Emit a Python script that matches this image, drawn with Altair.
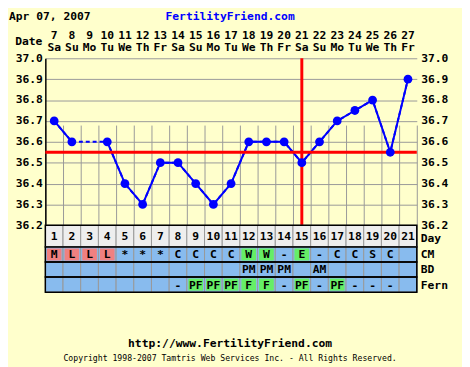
import altair as alt
import pandas as pd

# ---------------- data ----------------
dates = list(range(7, 28))
weekdays = ["Sa", "Su", "Mo", "Tu", "We", "Th", "Fr"] * 3
cycle_days = list(range(1, 22))
temps = [36.7, 36.6, None, 36.6, 36.4, 36.3, 36.5, 36.5, 36.4, 36.3, 36.4,
         36.6, 36.6, 36.6, 36.5, 36.6, 36.7, 36.75, 36.8, 36.55, 36.9]
cm = ["M", "L", "L", "L", "*", "*", "*", "C", "C", "C", "C", "W", "W", "-",
      "E", "-", "C", "C", "S", "C", ""]
bd = [""] * 11 + ["PM", "PM", "PM", "", "AM"] + [""] * 5
fern = [""] * 7 + ["-", "PF", "PF", "PF", "F", "F", "-", "PF", "-", "PF",
                   "-", "-", "-", ""]
coverline = 36.55
ovulation_day = 15
y_ticks = [36.2, 36.3, 36.4, 36.5, 36.6, 36.7, 36.8, 36.9, 37.0]
table_rows = ["CM", "BD", "Fern"]
title_date = "Apr 07, 2007"
site_name = "FertilityFriend.com"
site_url = "http://www.FertilityFriend.com"
copyright_text = "Copyright 1998-2007 Tamtris Web Services Inc. - All Rights Reserved."
period_codes = {"M", "L"}
fertile_codes = {"W", "E", "PF", "F"}

# ---------------- styling ----------------
W, H, TH = 378, 238, 170
BG = "#FFFFCC"
BLUE = "#0000FF"
RED = "#FF0000"
GRID = "#999999"
FONT = "DejaVu Sans Mono"
FS = 11.5

temp_df = pd.DataFrame({"cd": cycle_days, "date": dates, "wd": weekdays, "temp": temps})
day_df = pd.DataFrame({"cd": cycle_days, "row": ["Day"] * len(cycle_days)})

long_rows = []
for i, d in enumerate(cycle_days):
    for rname, vals in (("CM", cm), ("BD", bd), ("Fern", fern)):
        code = vals[i]
        kind = "period" if code in period_codes else ("fertile" if code in fertile_codes else "none")
        long_rows.append({"cd": d, "row": rname, "code": code, "kind": kind})
cells_df = pd.DataFrame(long_rows)

frame_day = pd.DataFrame({"row": ["Day"], "x0": [cycle_days[0] - 0.5], "x1": [cycle_days[-1] + 0.5]})
frame_rows = pd.DataFrame({"row": table_rows, "x0": [cycle_days[0] - 0.5] * 3, "x1": [cycle_days[-1] + 0.5] * 3})

xs = alt.Scale(domain=[cycle_days[0] - 0.5, cycle_days[-1] + 0.5], nice=False, zero=False)
x_axis = alt.Axis(values=[d - 0.5 for d in cycle_days] + [cycle_days[-1] + 0.5],
                  grid=True, gridColor=GRID, gridWidth=1, labels=False, ticks=False,
                  domain=False, title=None, orient="bottom")
ys_temp = alt.Scale(domain=[y_ticks[0], y_ticks[-1]], range=[TH, 0], nice=False, zero=False)
ys_day = alt.Scale(domain=["Day"], range=[TH, 192], paddingInner=0, paddingOuter=0)
ys_rows = alt.Scale(domain=table_rows, range=[192, H], paddingInner=0, paddingOuter=0)
ys_rows_in = alt.Scale(domain=table_rows, range=[192, H], paddingInner=0.2, paddingOuter=0.1)

left_axis = alt.Axis(values=y_ticks, format=".1f", orient="left", grid=True, gridColor=GRID,
                     gridWidth=1, domainColor="black", domainWidth=1.5, ticks=False,
                     labelPadding=3, labelFont=FONT, labelFontSize=FS, labelFontWeight="bold",
                     labelColor="black", title=None)
right_axis = alt.Axis(values=y_ticks, format=".1f", orient="right", grid=False, domain=False,
                      ticks=False, labelPadding=4, labelFont=FONT, labelFontSize=FS,
                      labelFontWeight="bold", labelColor="black", title=None)


def X(field):
    return alt.X(field, scale=xs, axis=x_axis, title=None)


txt = dict(font=FONT, fontSize=FS, fontWeight="bold", color="black")

# ---------------- table ----------------
day_cells = alt.Chart(day_df).transform_calculate(
    x0="datum.cd - 0.5", x1="datum.cd + 0.5"
).mark_rect(fill="#EEEEEE", stroke=GRID, strokeWidth=1).encode(
    x=X("x0:Q"), x2="x1:Q", y=alt.Y("row:N", scale=ys_day, axis=None))
day_text = alt.Chart(day_df).mark_text(dy=1, **txt).encode(
    x=X("cd:Q"), y=alt.Y("row:N", scale=ys_day, axis=None), text="cd:N")
day_frame = alt.Chart(frame_day).mark_rect(fillOpacity=0, stroke="black", strokeWidth=1.5).encode(
    x=X("x0:Q"), x2="x1:Q", y=alt.Y("row:N", scale=ys_day, axis=None))
day_label = alt.Chart(frame_day).mark_text(align="left", dy=3, **txt).encode(
    x=alt.value(W + 4), y=alt.Y("row:N", scale=ys_day, axis=None), text="row:N")

row_cells = alt.Chart(cells_df).transform_calculate(
    x0="datum.cd - 0.5", x1="datum.cd + 0.5"
).mark_rect(fill="#88BBEE", stroke=GRID, strokeWidth=1).encode(
    x=X("x0:Q"), x2="x1:Q", y=alt.Y("row:N", scale=ys_rows, axis=None))
row_hl = alt.Chart(cells_df).transform_filter("datum.kind != 'none'").transform_calculate(
    x0="datum.cd - 0.5", x1="datum.cd + 0.5"
).mark_rect(xOffset=1.5, x2Offset=-1.5).encode(
    x=X("x0:Q"), x2="x1:Q", y=alt.Y("row:N", scale=ys_rows_in, axis=None),
    color=alt.Color("kind:N", scale=alt.Scale(domain=["period", "fertile"],
                                              range=["#F08080", "#66EE66"]), legend=None))
row_frame = alt.Chart(frame_rows).mark_rect(fillOpacity=0, stroke="black", strokeWidth=1.5).encode(
    x=X("x0:Q"), x2="x1:Q", y=alt.Y("row:N", scale=ys_rows, axis=None))
row_text = alt.Chart(cells_df).transform_filter("datum.code != ''").mark_text(dy=1, **txt).encode(
    x=X("cd:Q"), y=alt.Y("row:N", scale=ys_rows, axis=None), text="code:N")
row_label = alt.Chart(frame_rows).mark_text(align="left", dy=1, **txt).encode(
    x=alt.value(W + 4), y=alt.Y("row:N", scale=ys_rows, axis=None), text="row:N")

# ---------------- temperatures ----------------
tbase = alt.Chart(temp_df)
dashed = tbase.mark_line(color=BLUE, strokeWidth=2, strokeDash=[4, 3], invalid="filter").encode(
    x=X("cd:Q"), y=alt.Y("temp:Q", scale=ys_temp, axis=left_axis))
solid = tbase.mark_line(color=BLUE, strokeWidth=2, invalid="break-paths-show-domains").encode(
    x=X("cd:Q"), y=alt.Y("temp:Q", scale=ys_temp, axis=right_axis))
cover = alt.Chart(pd.DataFrame({"temp": [coverline]})).mark_rule(color=RED, strokeWidth=3).encode(
    y=alt.Y("temp:Q", scale=ys_temp, axis=None))
ovu = alt.Chart(pd.DataFrame({"cd": [ovulation_day], "top": [y_ticks[-1]], "bottom": [y_ticks[0]]})
                ).mark_rule(color=RED, strokeWidth=3).encode(
    x=X("cd:Q"), y=alt.Y("top:Q", scale=ys_temp, axis=None), y2="bottom:Q")
points = tbase.mark_circle(size=80, color=BLUE, opacity=1).encode(
    x=X("cd:Q"), y=alt.Y("temp:Q", scale=ys_temp, axis=None))

# ---------------- header / footer ----------------
date_text = tbase.mark_text(**txt).encode(x=X("cd:Q"), y=alt.value(-23), text="date:N")
wd_text = tbase.mark_text(**txt).encode(x=X("cd:Q"), y=alt.value(-10), text="wd:N")
date_label = alt.Chart(pd.DataFrame({"t": ["Date"]})).mark_text(align="right", **txt).encode(
    x=alt.value(-3), y=alt.value(-17), text="t:N")
top_left = alt.Chart(pd.DataFrame({"t": [title_date]})).mark_text(align="left", **txt).encode(
    x=alt.value(-37), y=alt.value(-42), text="t:N")
top_site = alt.Chart(pd.DataFrame({"t": [site_name]})).mark_text(
    align="center", font=FONT, fontSize=FS, fontWeight="bold", color=BLUE).encode(
    x=alt.value(188), y=alt.value(-42), text="t:N")
foot_url = alt.Chart(pd.DataFrame({"t": [site_url]})).mark_text(align="center", **txt).encode(
    x=alt.value(188), y=alt.value(291), text="t:N")
foot_copy = alt.Chart(pd.DataFrame({"t": [copyright_text]})).mark_text(
    align="center", font=FONT, fontSize=8.3, color="black").encode(
    x=alt.value(188), y=alt.value(306), text="t:N")

chart = alt.layer(
    dashed, solid, cover, ovu, points,
    day_cells, day_text, day_frame, day_label,
    row_cells, row_hl, row_frame, row_text, row_label,
    date_text, wd_text, date_label, top_left, top_site, foot_url, foot_copy,
).resolve_scale(y="independent").properties(
    width=W, height=H,
    autosize=alt.AutoSizeParams(type="none"),
    padding={"left": 38, "top": 48, "right": 46, "bottom": 73},
).configure(background=BG).configure_view(stroke=None, fill=BG)

chart.save("out.html", embed_options={"renderer": "svg", "actions": False})
